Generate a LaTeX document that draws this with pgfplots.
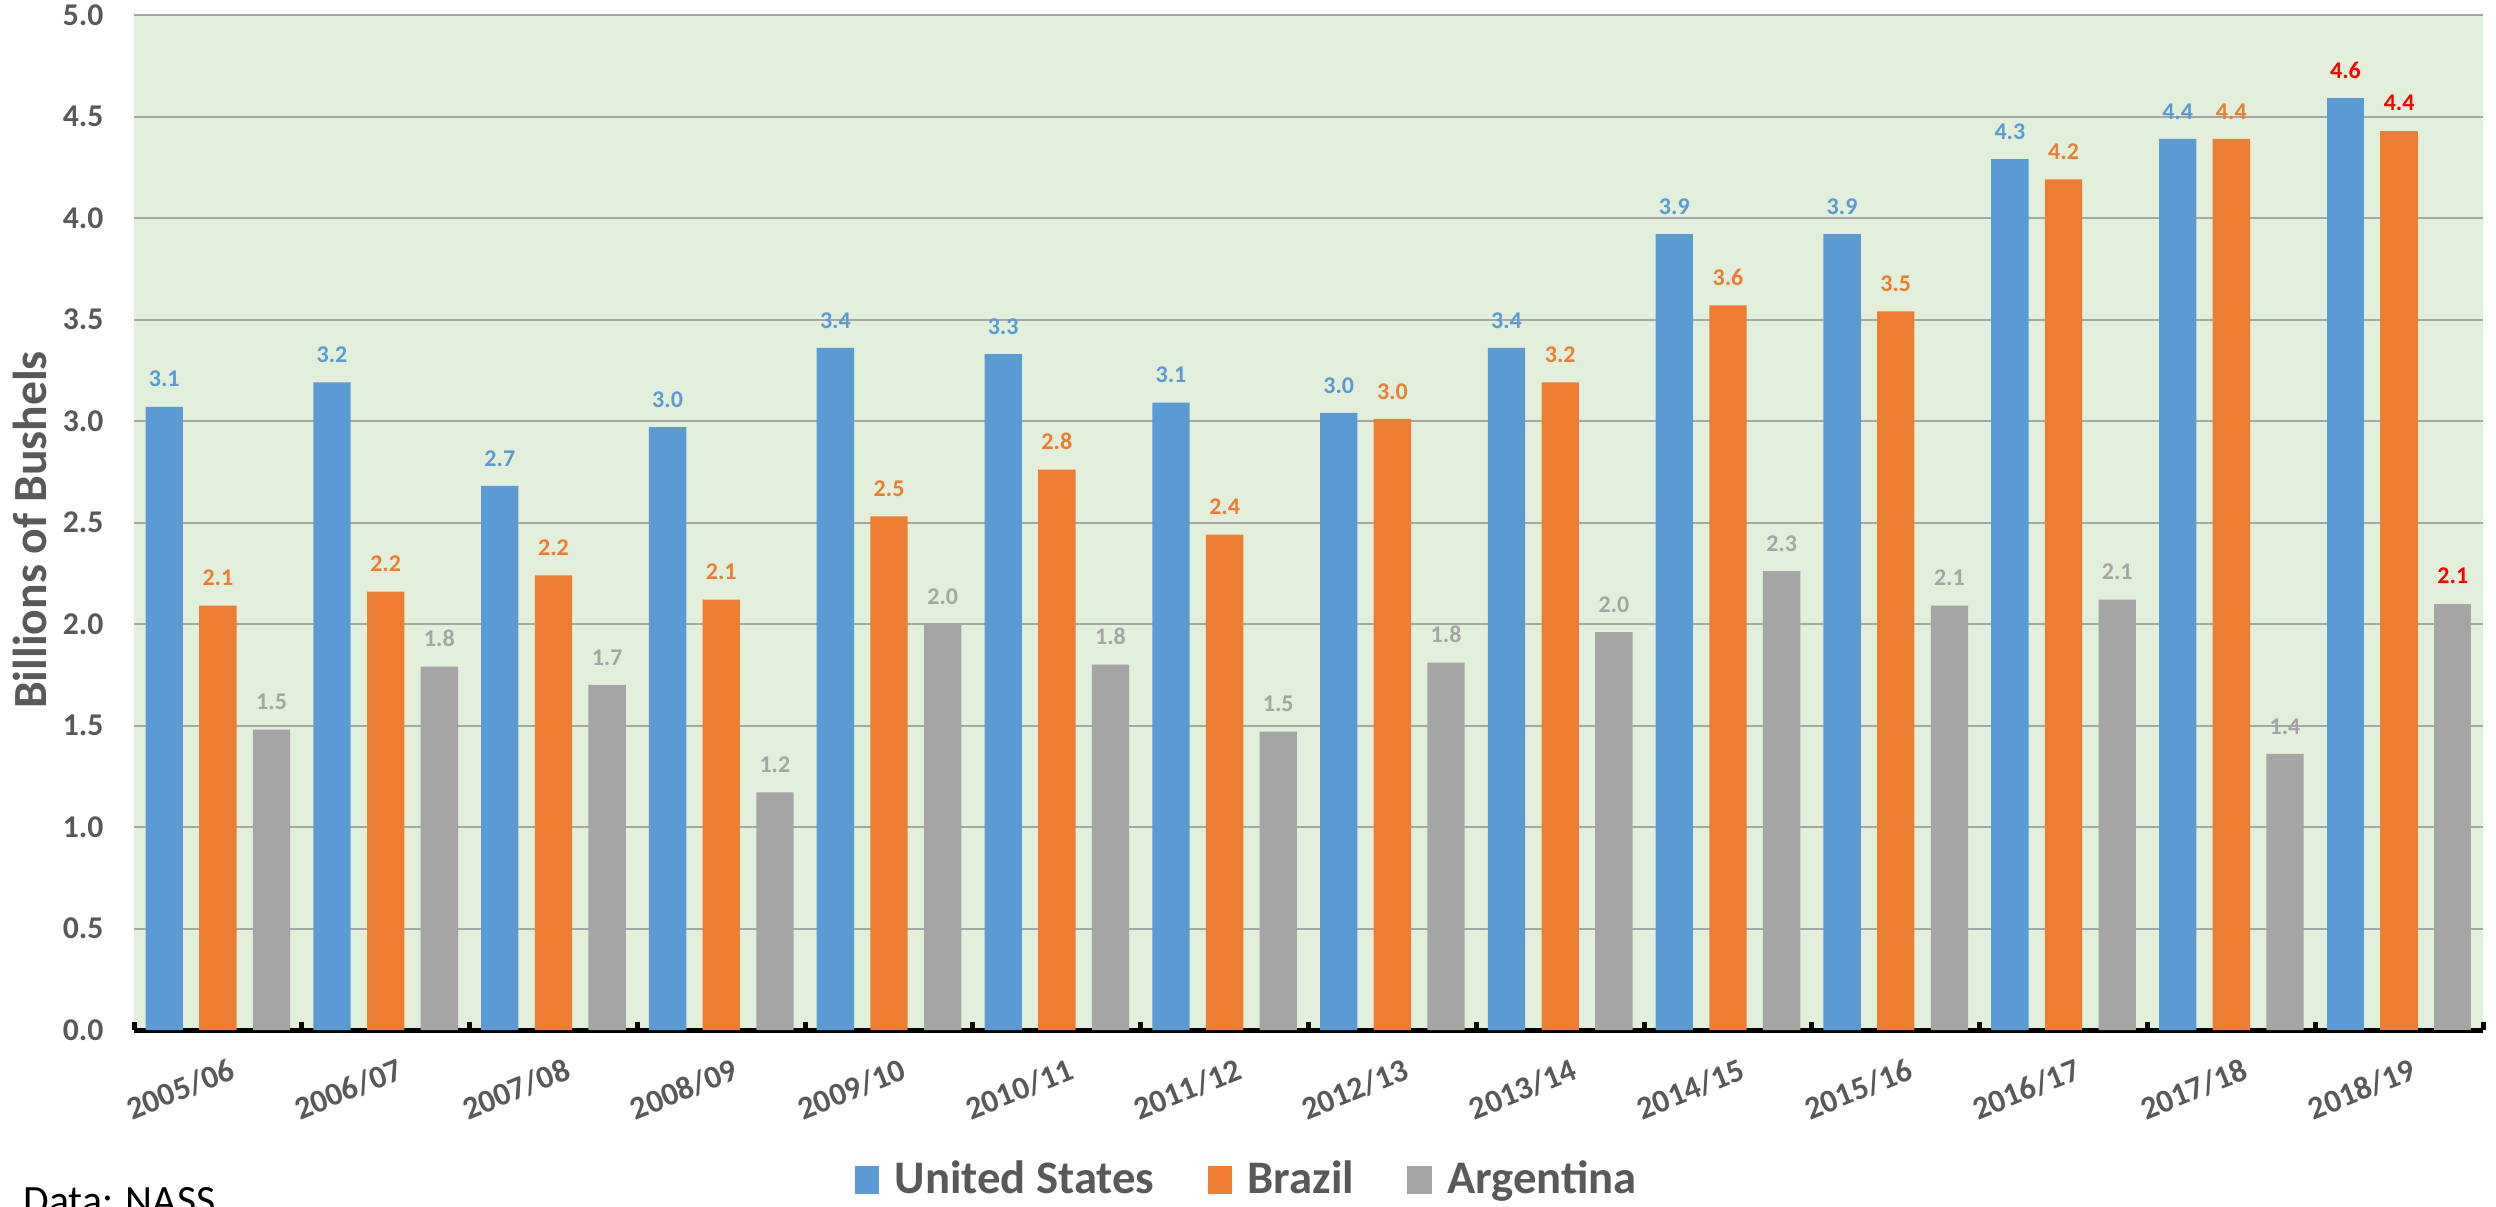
\documentclass[border=0pt]{standalone}
\usepackage{pgfplots}
\pgfplotsset{compat=1.18}
\usepackage{pgfplotstable}
\usepackage{fontspec}
\setmainfont{Carlito}
\definecolor{usblue}{HTML}{5B9BD5}
\definecolor{brorange}{HTML}{ED7D31}
\definecolor{argray}{HTML}{A5A5A5}
\definecolor{bggreen}{HTML}{E2EFDA}
\definecolor{txtgray}{HTML}{595959}
\definecolor{gridgray}{HTML}{A6A6A6}
\definecolor{lblred}{HTML}{FF0000}

\pgfplotstableread{
x us br ar
0 3.07 2.09 1.48
1 3.19 2.16 1.79
2 2.68 2.24 1.70
3 2.97 2.12 1.17
4 3.36 2.53 2.00
5 3.33 2.76 1.80
6 3.09 2.44 1.47
7 3.04 3.01 1.81
8 3.36 3.19 1.96
9 3.92 3.57 2.26
10 3.92 3.54 2.09
11 4.29 4.19 2.12
12 4.39 4.39 1.36
}\maindata
\pgfplotstableread{
x us br ar
13 4.59 4.43 2.10
}\lastdata

\begin{document}
\begin{tikzpicture}
\path[use as bounding box] (0,0) rectangle (748.8pt,361.8pt);
\begin{axis}[
  at={(40.2pt,52.8pt)}, anchor=south west,
  scale only axis, width=704.7pt, height=304.5pt,
  clip=false,
  /pgf/number format/assume math mode=true,
  ybar, bar width=11.2pt,
  xmin=-0.5, xmax=13.5, ymin=0, ymax=5,
  axis x line*=bottom, axis y line*=left,
  x axis line style={-, black, line width=1.5pt},
  y axis line style={draw=none},
  axis background/.style={fill=bggreen},
  ymajorgrids, grid style={gridgray, line width=0.6pt},
  ytick={0,0.5,...,5.01},
  yticklabel style={/pgf/number format/.cd, fixed, fixed zerofill, precision=1, /tikz/.cd,
    font=\fontsize{9.5}{11}\selectfont\bfseries, text=txtgray, anchor=east, inner sep=0pt, xshift=-9pt},
  ytick style={draw=none},
  xtick={0,...,13},
  xticklabels={2005/06,2006/07,2007/08,2008/09,2009/10,2010/11,2011/12,2012/13,2013/14,2014/15,2015/16,2016/17,2017/18,2018/19},
  xticklabel style={font=\fontsize{9.7}{11}\selectfont\bfseries, text=txtgray, rotate=22, anchor=north east, inner sep=0pt, yshift=-8.5pt},
  major x tick style={draw=none},
  minor xtick={-0.5,0.5,...,13.6},
  minor x tick style={black, line width=1.5pt},
  minor tick length=2.4pt,
  tick align=inside,
  ylabel={Billions of Bushels},
  ylabel style={at={(axis description cs:-0.0443,0.4926)}, anchor=center, font=\fontsize{14.3}{16}\selectfont\bfseries, text=txtgray, inner sep=0pt},
  nodes near coords={\pgfmathprintnumber[fixed, fixed zerofill, precision=1]{\pgfplotspointmeta}},
  nodes near coords style={font=\fontsize{7.2}{9}\selectfont\bfseries, anchor=south, inner sep=0pt, yshift=5.7pt},
  legend columns=-1,
  legend style={at={(axis description cs:0.4747,-0.1478)}, anchor=center, draw=none, fill=none,
    font=\fontsize{14}{16}\selectfont\bfseries, text=txtgray,
    /tikz/every odd column/.append style={column sep=2.6pt},
    /tikz/every even column/.append style={column sep=14pt}},
  legend image code/.code={\fill[#1] (0pt,-4.3pt) rectangle (7.4pt,4.3pt);},
]
\addplot[fill=usblue, draw=none, bar shift=-16.1pt, every node near coord/.append style={text=usblue}] table[x=x, y=us] {\maindata};
\addlegendentry{United States}
\addplot[fill=brorange, draw=none, bar shift=0pt, every node near coord/.append style={text=brorange}] table[x=x, y=br] {\maindata};
\addlegendentry{Brazil}
\addplot[fill=argray, draw=none, bar shift=16.1pt, every node near coord/.append style={text=argray}] table[x=x, y=ar] {\maindata};
\addlegendentry{Argentina}
\addplot[forget plot, fill=usblue, draw=none, bar shift=-16.1pt, every node near coord/.append style={text=lblred}] table[x=x, y=us] {\lastdata};
\addplot[forget plot, fill=brorange, draw=none, bar shift=0pt, every node near coord/.append style={text=lblred}] table[x=x, y=br] {\lastdata};
\addplot[forget plot, fill=argray, draw=none, bar shift=16.1pt, every node near coord/.append style={text=lblred}] table[x=x, y=ar] {\lastdata};
\end{axis}
\node[anchor=base west, inner sep=0pt, font=\fontsize{12.5}{15}\selectfont] at (6.9pt,-2.4pt) {Data: NASS};
\end{tikzpicture}
\end{document}
